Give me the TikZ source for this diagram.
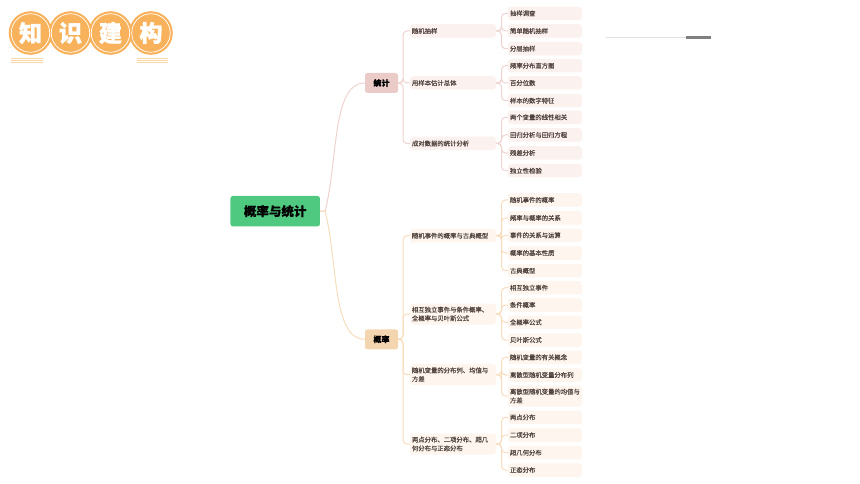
\documentclass[tikz,border=0pt]{standalone}
\usepackage{fontspec}
\setmainfont{Liberation Sans}
\newfontfamily\cjk[BoldFeatures={FakeBold=0.2}]{Noto Sans CJK SC}
\newfontfamily\cjklogo[BoldFeatures={FakeBold=1.2}]{Noto Sans CJK SC}
\newfontfamily\cjkleaf[FakeBold=0.08]{Noto Sans CJK SC}
\definecolor{rootgreen}{HTML}{4FC97F}
\definecolor{tjtopic}{HTML}{EBCBC8}
\definecolor{gltopic}{HTML}{F3D5B0}
\definecolor{tjleaf}{HTML}{FBF1EF}
\definecolor{glleaf}{HTML}{FDF5EE}
\definecolor{tjline}{HTML}{EFD3CF}
\definecolor{glline}{HTML}{F8DDBC}
\definecolor{logoorange}{HTML}{F9B25C}
\definecolor{logobar}{HTML}{FAD5A6}
\definecolor{leaftext}{HTML}{4F413C}
\begin{document}
\begin{tikzpicture}[
    x = 1pt,
    y = -1pt,
    root/.style = {rectangle, rounded corners=2.5pt, fill=rootgreen, minimum width=89.5pt,
              minimum height=30.5pt, inner sep=0pt, font=\cjk\fontsize{12.5}{14}\selectfont\bfseries},
    topic/.style = {rectangle, rounded corners=2.5pt, minimum width=33pt, minimum height=20pt,
              inner sep=0pt, font=\cjk\fontsize{8}{10}\selectfont\bfseries},
    mid/.style = {rectangle, rounded corners=3pt, minimum width=86pt, minimum height=13.5pt,
              text width=82pt, inner xsep=2pt, inner ysep=0pt, align=left, text=leaftext,
              font=\cjkleaf\fontsize{6.35}{8.7}\selectfont},
    leaf/.style = {mid, minimum width=74pt, minimum height=13.5pt, text width=70pt},
    logo/.style = {circle, draw=white, line width=0.7pt, minimum size=38.5pt,
              inner sep=0pt, text=white,
              font=\cjklogo\fontsize{23}{25}\selectfont\bfseries},
    tjlink/.style = {draw=tjline, line width=1pt, rounded corners=4pt},
    gllink/.style = {draw=glline, line width=1pt, rounded corners=4pt},
    logobarline/.style = {draw=logobar, line width=1pt},
    ]
\useasboundingbox (0,0) rectangle (860,484);

% logo
\fill[logoorange] (30.5,33) circle (21.8) (70.5,33) circle (21.8)
      (110.5,33) circle (21.8) (151,33) circle (21.8);
\node[logo] (logo_1) at (30.5,33){知};
\node[logo] (logo_2) at (70.5,33){识};
\node[logo] (logo_3) at (110.5,33){建};
\node[logo] (logo_4) at (151,33){构};
\draw[logobarline] (11,58.5) -- (43,58.5) (11,60.8) -- (43,60.8) (11,63) -- (43,63);
\draw[logobarline] (137,58.5) -- (168,58.5) (137,60.8) -- (168,60.8) (137,63) -- (168,63);

% slider top right
\coordinate (bar_a) at (606,37.5);
\coordinate (bar_b) at (686,37.5);
\coordinate (bar_c) at (711,37.5);
\draw[draw=black!12, line width=0.9pt] (bar_a) -- (bar_b);
\draw[draw=black!50, line width=2.6pt] (bar_b) -- (bar_c);

\node[root] (root) at (275.2,211.2){概率与统计};
\node[topic, fill=tjtopic] (tj) at (381.5,83){统计};
\node[topic, fill=gltopic] (gl) at (381.5,339.3){概率};

% tongji mids
\node[mid, fill=tjleaf] (mid_1) at (453,31){随机抽样};
\node[mid, fill=tjleaf] (mid_2) at (453,83){用样本估计总体};
\node[mid, fill=tjleaf] (mid_3) at (453,143.5){成对数据的统计分析};

% tongji leaves
\node[leaf, fill=tjleaf] (leaf_1) at (545,13.3){抽样调查};
\node[leaf, fill=tjleaf] (leaf_2) at (545,31){简单随机抽样};
\node[leaf, fill=tjleaf] (leaf_3) at (545,48.7){分层抽样};
\node[leaf, fill=tjleaf] (leaf_4) at (545,65.7){频率分布直方图};
\node[leaf, fill=tjleaf] (leaf_5) at (545,83){百分位数};
\node[leaf, fill=tjleaf] (leaf_6) at (545,100.7){样本的数字特征};
\node[leaf, fill=tjleaf] (leaf_7) at (545,117.3){两个变量的线性相关};
\node[leaf, fill=tjleaf] (leaf_8) at (545,135){回归分析与回归方程};
\node[leaf, fill=tjleaf] (leaf_9) at (545,153){残差分析};
\node[leaf, fill=tjleaf] (leaf_10) at (545,170.7){独立性检验};

% gailv mids
\node[mid, fill=glleaf] (mid_4) at (453,235.7){随机事件的概率与古典概型};
\node[mid, fill=glleaf, minimum height=21pt] (mid_5) at (453,314){相互独立事件与条件概率、\\全概率与贝叶斯公式};
\node[mid, fill=glleaf, minimum height=21pt] (mid_6) at (453,374.7){随机变量的分布列、均值与\\方差};
\node[mid, fill=glleaf, minimum height=21pt] (mid_7) at (453,444){两点分布、二项分布、超几\\何分布与正态分布};

% gailv leaves
\node[leaf, fill=glleaf] (leaf_11) at (545,200){随机事件的概率};
\node[leaf, fill=glleaf] (leaf_12) at (545,218){频率与概率的关系};
\node[leaf, fill=glleaf] (leaf_13) at (545,235.3){事件的关系与运算};
\node[leaf, fill=glleaf] (leaf_14) at (545,253){概率的基本性质};
\node[leaf, fill=glleaf] (leaf_15) at (545,270.7){古典概型};
\node[leaf, fill=glleaf] (leaf_16) at (545,287.7){相互独立事件};
\node[leaf, fill=glleaf] (leaf_17) at (545,305){条件概率};
\node[leaf, fill=glleaf] (leaf_18) at (545,322.3){全概率公式};
\node[leaf, fill=glleaf] (leaf_19) at (545,340){贝叶斯公式};
\node[leaf, fill=glleaf] (leaf_20) at (545,357.3){随机变量的有关概念};
\node[leaf, fill=glleaf] (leaf_21) at (545,375){离散型随机变量分布列};
\node[leaf, fill=glleaf, minimum height=21pt] (leaf_22) at (545,396){离散型随机变量的均值与\\方差};
\node[leaf, fill=glleaf] (leaf_23) at (545,417.3){两点分布};
\node[leaf, fill=glleaf] (leaf_24) at (545,435){二项分布};
\node[leaf, fill=glleaf] (leaf_25) at (545,452.7){超几何分布};
\node[leaf, fill=glleaf] (leaf_26) at (545,470){正态分布};

% root to topics
\draw[draw=tjline, line width=1pt] (root.east) -- ++(5,0) .. controls (338,160) and (332,83) .. (tj.west);
\draw[draw=glline, line width=1pt] (root.east) -- ++(5,0) .. controls (338,262) and (332,339.3) .. (gl.west);

% topics to mids
\foreach \m in {1,2,3}
    \draw[tjlink] (tj.east) -- (403,83) |- (mid_\m.west);
\foreach \m in {4,5,6,7}
    \draw[gllink] (gl.east) -- (403,339.3) |- (mid_\m.west);

% mids to leaves
\foreach \l in {1,2,3}
    \draw[tjlink] (mid_1.east) -- (501.5,31) |- (leaf_\l.west);
\foreach \l in {4,5,6}
    \draw[tjlink] (mid_2.east) -- (501.5,83) |- (leaf_\l.west);
\foreach \l in {7,8,9,10}
    \draw[tjlink] (mid_3.east) -- (501.5,143.5) |- (leaf_\l.west);
\foreach \l in {11,12,13,14,15}
    \draw[gllink] (mid_4.east) -- (501.5,235.7) |- (leaf_\l.west);
\foreach \l in {16,17,18,19}
    \draw[gllink] (mid_5.east) -- (501.5,314) |- (leaf_\l.west);
\foreach \l in {20,21,22}
    \draw[gllink] (mid_6.east) -- (501.5,374.7) |- (leaf_\l.west);
\foreach \l in {23,24,25,26}
    \draw[gllink] (mid_7.east) -- (501.5,444) |- (leaf_\l.west);

\end{tikzpicture}
\end{document}
